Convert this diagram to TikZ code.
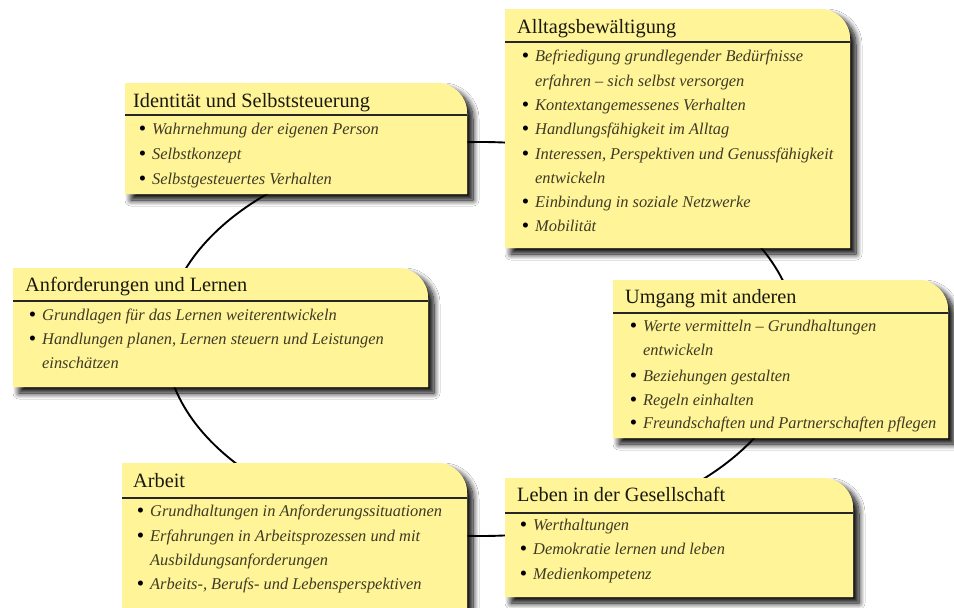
\documentclass[tikz,border=0pt]{standalone}
\usepackage{fontspec}
\setmainfont{Liberation Serif}
\usetikzlibrary{shadows.blur}
\definecolor{boxyellow}{RGB}{255,244,152}
\definecolor{itemcol}{RGB}{62,58,36}
\definecolor{titlecol}{RGB}{25,25,15}
\newcommand{\bul}{\llap{\raisebox{-1.6pt}{\color{black}\upshape\fontsize{21}{24}\selectfont\textbullet}\hspace{6pt}}}
\newcommand{\boxpath}[4]{(#1,#4) -- (#1,#2) -- ({#3-30},#2) arc[start angle=-90,end angle=0,radius=30] -- (#3,#4) -- cycle}
\tikzset{
  boxfill/.style={fill=boxyellow},
  boxshadow/.style={fill=boxyellow, blur shadow={shadow xshift=6pt, shadow yshift=-6pt, shadow blur radius=6pt, shadow blur steps=12, shadow opacity=100}},
  ttl/.style={anchor=base west, inner sep=0pt, font=\fontsize{20.3}{24}\selectfont, text=titlecol},
  itm/.style={anchor=base west, inner sep=0pt, font=\fontsize{16.4}{24}\selectfont\itshape, text=itemcol},
  hline/.style={line width=1.3pt, draw=black!85},
  ring/.style={line width=1.9pt, draw=black},
}
\begin{document}
\begin{tikzpicture}[x=1pt,y=-1pt]
\fill[white] (0,0) rectangle (954,608);
\useasboundingbox (0,0) rectangle (954,608);
% shadows
\path[boxshadow] \boxpath{505}{9}{850}{248};
\path[boxshadow] \boxpath{125}{83}{467}{194};
\path[boxshadow] \boxpath{13}{268}{428}{387};
\path[boxshadow] \boxpath{613}{280}{948}{438};
\path[boxshadow] \boxpath{122}{463}{467}{630};
\path[boxshadow] \boxpath{505}{478}{853}{597};
% ring
\draw[ring] (481,339) ellipse [x radius=316, y radius=197];
% boxes
\path[boxfill] \boxpath{505}{9}{850}{248};
\path[boxfill] \boxpath{125}{83}{467}{194};
\path[boxfill] \boxpath{13}{268}{428}{387};
\path[boxfill] \boxpath{613}{280}{948}{438};
\path[boxfill] \boxpath{122}{463}{467}{630};
\path[boxfill] \boxpath{505}{478}{853}{597};
% header lines
\draw[hline] (505,42) -- (850,42);
\draw[hline] (125,115) -- (467,115);
\draw[hline] (13,301) -- (428,301);
\draw[hline] (613,313) -- (948,313);
\draw[hline] (122,498) -- (467,498);
\draw[hline] (505,513) -- (853,513);
% Alltagsbewaeltigung
\node[ttl] (tA) at (517,33) {Alltagsbewältigung};
\node[itm] (A1) at (535,61) {\bul Befriedigung grundlegender Bedürfnisse};
\node[itm] (A2) at (535,86) {erfahren – sich selbst versorgen};
\node[itm] (A3) at (535,110) {\bul Kontextangemessenes Verhalten};
\node[itm] (A4) at (535,134) {\bul Handlungsfähigkeit im Alltag};
\node[itm] (A5) at (535,159) {\bul Interessen, Perspektiven und Genussfähigkeit};
\node[itm] (A6) at (535,183) {entwickeln};
\node[itm] (A7) at (535,207) {\bul Einbindung in soziale Netzwerke};
\node[itm] (A8) at (535,231) {\bul Mobilität};
% Identitaet
\node[ttl] (tI) at (133,107) {Identität und Selbststeuerung};
\node[itm] (I1) at (152,134) {\bul Wahrnehmung der eigenen Person};
\node[itm] (I2) at (152,159) {\bul Selbstkonzept};
\node[itm] (I3) at (152,184) {\bul Selbstgesteuertes Verhalten};
% Anforderungen
\node[ttl] (tN) at (25,291) {Anforderungen und Lernen};
\node[itm] (N1) at (42,320) {\bul Grundlagen für das Lernen weiterentwickeln};
\node[itm] (N2) at (42,344) {\bul Handlungen planen, Lernen steuern und Leistungen};
\node[itm] (N3) at (42,368) {einschätzen};
% Umgang
\node[ttl] (tU) at (625,303) {Umgang mit anderen};
\node[itm] (U1) at (643,331) {\bul Werte vermitteln – Grundhaltungen};
\node[itm] (U2) at (643,355) {entwickeln};
\node[itm] (U3) at (643,381) {\bul Beziehungen gestalten};
\node[itm] (U4) at (643,405) {\bul Regeln einhalten};
\node[itm] (U5) at (643,428) {\bul Freundschaften und Partnerschaften pflegen};
% Arbeit
\node[ttl] (tR) at (133,487) {Arbeit};
\node[itm] (R1) at (150,516) {\bul Grundhaltungen in Anforderungssituationen};
\node[itm] (R2) at (150,541) {\bul Erfahrungen in Arbeitsprozessen und mit};
\node[itm] (R3) at (150,565) {Ausbildungsanforderungen};
\node[itm] (R4) at (150,589) {\bul Arbeits-, Berufs- und Lebensperspektiven};
% Leben
\node[ttl] (tL) at (517,501) {Leben in der Gesellschaft};
\node[itm] (L1) at (533,530) {\bul Werthaltungen};
\node[itm] (L2) at (533,554) {\bul Demokratie lernen und leben};
\node[itm] (L3) at (533,579) {\bul Medienkompetenz};
\end{tikzpicture}
\end{document}
